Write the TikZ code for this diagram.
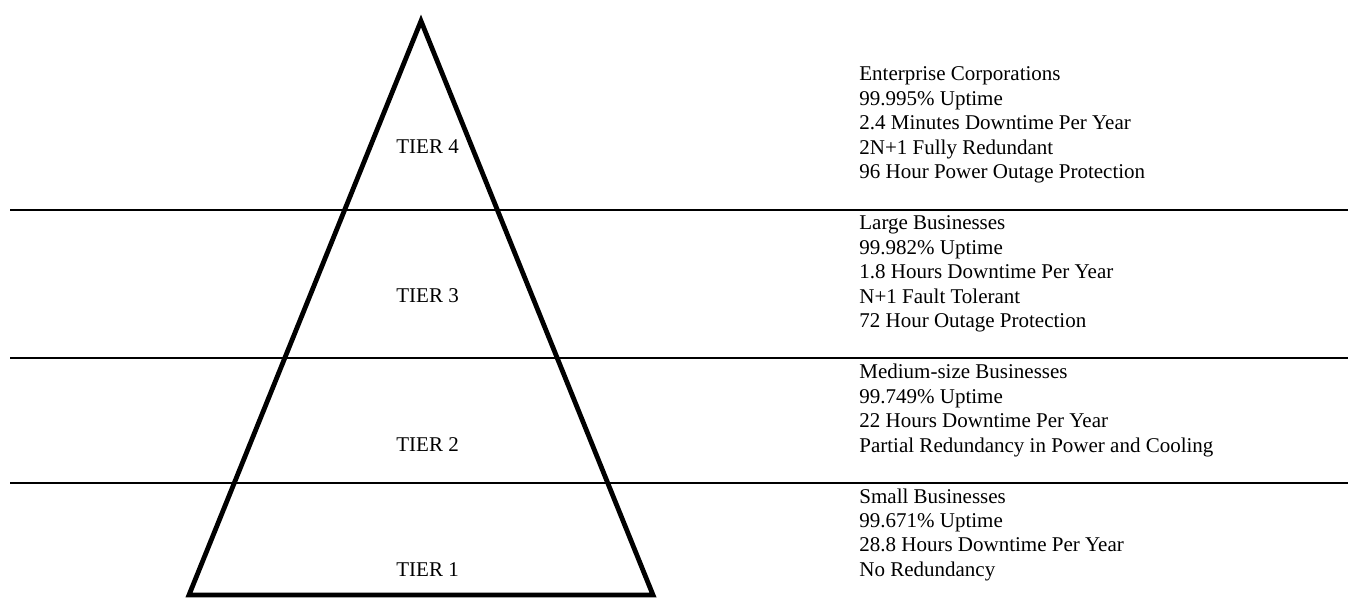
\documentclass[tikz,border=0pt]{standalone}
\usepackage{fontspec}
\setmainfont{Liberation Serif}
\usepackage{tikz}
\usetikzlibrary{positioning}

\begin{document}
\begin{tikzpicture}[x=5pt,y=-5pt,
	tierlabel/.style={font=\fontsize{10.5}{12.2}\selectfont, inner sep=0, anchor=base west},
	infobox/.style={font=\fontsize{10.5}{12.2}\selectfont, inner sep=0, anchor=base west, align=left},
	sepline/.style={line width=1pt},
	pyramid/.style={line width=2.4pt, line join=miter}
]
\useasboundingbox (0,0) rectangle (134.8,60.3);

% pyramid
\coordinate (apex) at (42.1,2.1);
\coordinate (baseL) at (18.9,59.5);
\coordinate (baseR) at (65.3,59.5);
\draw[pyramid] (apex) -- (baseR) -- (baseL) -- cycle;

% tier separators
\draw[sepline] (1.0,21.0) -- (134.8,21.0);
\draw[sepline] (1.0,35.8) -- (134.8,35.8);
\draw[sepline] (1.0,48.3) -- (134.8,48.3);

\node[tierlabel] (tier4) at (39.6,15.4) {TIER 4};
\node[tierlabel] (tier3) at (39.6,30.3) {TIER 3};
\node[tierlabel] (tier2) at (39.6,45.2) {TIER 2};
\node[tierlabel] (tier1) at (39.6,57.6) {TIER 1};

% base west sits on the last line
\node[infobox] (info4) at (85.9,17.86) {Enterprise Corporations\\99.995\% Uptime\\2.4 Minutes Downtime Per Year\\2N+1 Fully Redundant\\96 Hour Power Outage Protection};
\node[infobox] (info3) at (85.9,32.76) {Large Businesses\\99.982\% Uptime\\1.8 Hours Downtime Per Year\\N+1 Fault Tolerant\\72 Hour Outage Protection};
\node[infobox] (info2) at (85.9,45.22) {Medium-size Businesses\\99.749\% Uptime\\22 Hours Downtime Per Year\\Partial Redundancy in Power and Cooling};
\node[infobox] (info1) at (85.9,57.62) {Small Businesses\\99.671\% Uptime\\28.8 Hours Downtime Per Year\\No Redundancy};
\end{tikzpicture}
\end{document}
